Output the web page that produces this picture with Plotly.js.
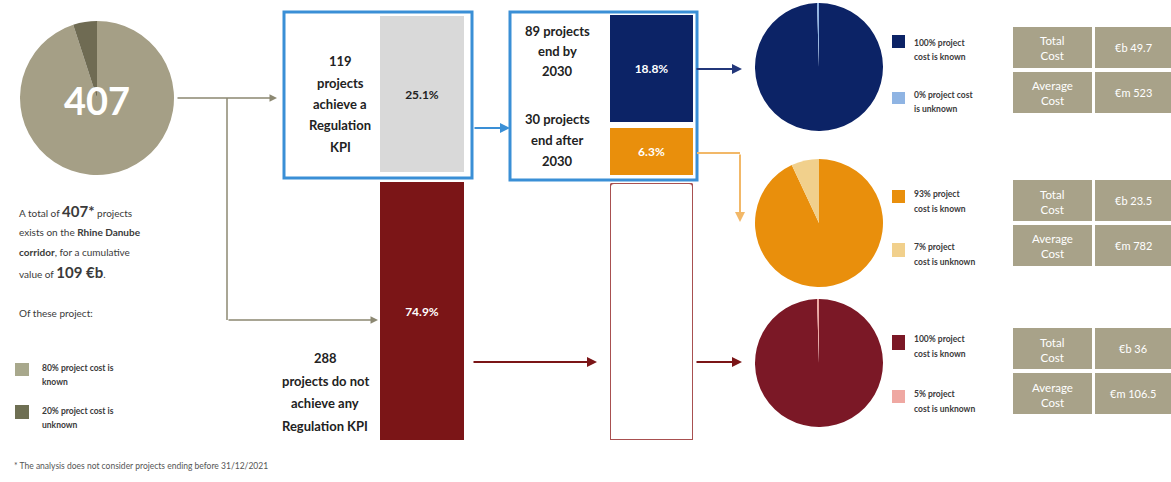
<!DOCTYPE html>
<html>
<head>
<meta charset="utf-8">
<script src="https://cdn.plot.ly/plotly-3.0.1.min.js"></script>
<style>html,body{margin:0;padding:0;background:#fff;}#chart{width:1171px;height:482px;}</style>
</head>
<body>
<div id="chart"></div>
<script>
// ---------- DATA ----------
const totalProjects = 407;
const allPieLabels = ['Project cost is unknown', 'Project cost is known'];
const allPieValues = [5, 95];
const kpiLabels = ['Achieve a Regulation KPI', 'Do not achieve any Regulation KPI'];
const kpiShares = [25.1, 74.9];
const endLabels = ['End by 2030', 'End after 2030'];
const endShares = [18.8, 6.3];
const noKpiCarry = [74.9];
const byPieLabels = ['Project cost is unknown', 'Project cost is known'];
const byPieValues = [0.5, 100];
const afterPieValues = [7, 93];
const noKpiPieValues = [0.5, 100];
const costRowLabels = ['Total<br>Cost', 'Average<br>Cost'];
const totalCosts = ['€b 49.7', '€b 23.5', '€b 36'];
const averageCosts = ['€m 523', '€m 782', '€m 106.5'];

// ---------- HELPERS ----------
const W = 1171, H = 482;
const X = px => px / W;
const Y = py => 1 - py / H;
const FONT = 'Lato, "Open Sans", sans-serif';
const C = {
  tan: '#a59f86', olive: '#6f6b53', grey: '#d9d9d9', red: '#7b1517', redPie: '#7b1826',
  navy: '#0c2366', lightBlue: '#8fb4e3', orange: '#e98f0c', lightOrange: '#f1d08c',
  pink: '#efa8a2', blue: '#3a8fd6', table: '#a8a289', text: '#3a3a3a', conn: '#8c8872'
};

const traces = [];
const shapes = [];
const annotations = [];

function txt(text, x, y, opts = {}) {
  annotations.push(Object.assign({
    text, x: X(x), y: Y(y), xref: 'paper', yref: 'paper', showarrow: false,
    xanchor: 'center', yanchor: 'middle',
    font: { family: FONT, size: 12, color: '#222' }
  }, opts));
}
function lines(arr, x, y0, gap, opts) {
  arr.forEach((t, i) => txt(t, x, y0 + i * gap, opts));
}
function arrow(x1, y1, x2, y2, color, width) {
  annotations.push({
    x: X(x2), y: Y(y2), xref: 'paper', yref: 'paper', text: '',
    showarrow: true, ax: x1 - x2, ay: y1 - y2, axref: 'pixel', ayref: 'pixel',
    arrowhead: 2, arrowsize: 1, arrowwidth: width, arrowcolor: color, standoff: 0
  });
}
function seg(x1, y1, x2, y2, color, width) {
  shapes.push({ type: 'line', xref: 'paper', yref: 'paper', x0: X(x1), y0: Y(y1), x1: X(x2), y1: Y(y2),
    line: { color, width } });
}
function rect(x1, y1, x2, y2, fill, lineColor, lw) {
  shapes.push({ type: 'rect', xref: 'paper', yref: 'paper', x0: X(x1), y0: Y(y1), x1: X(x2), y1: Y(y2),
    fillcolor: fill, line: { color: lineColor || fill, width: lw || 0 }, layer: 'below' });
}
function pie(values, labels, colors, cx, cy, r) {
  traces.push({
    type: 'pie', values, labels, sort: false, direction: 'clockwise', rotation: 0,
    marker: { colors, line: { width: 0 } }, textinfo: 'none', hoverinfo: 'label+value',
    showlegend: false,
    domain: { x: [X(cx - r), X(cx + r)], y: [Y(cy + r), Y(cy - r)] }
  });
}

// ---------- PIES ----------
pie(allPieValues.slice().reverse(), allPieLabels.slice().reverse(), [C.tan, C.olive], 97, 98, 77);
txt('<b>' + totalProjects + '</b>', 97, 100, { font: { family: FONT, size: 38, color: '#fff' } });
pie(byPieValues.slice().reverse(), byPieLabels.slice().reverse(), [C.navy, C.lightBlue], 819, 67, 64);
pie(afterPieValues.slice().reverse(), byPieLabels.slice().reverse(), [C.orange, C.lightOrange], 819, 223, 64);
pie(noKpiPieValues.slice().reverse(), byPieLabels.slice().reverse(), [C.redPie, C.pink], 819, 363, 64);

// ---------- BARS ----------
const layoutAxes = {};
function hiddenAxis(domain, range, anchor) {
  return { domain, range, anchor, visible: false, fixedrange: true, showgrid: false, zeroline: false };
}
layoutAxes.xaxis = hiddenAxis([X(380), X(464)], [-0.5, 0.5], 'y');
layoutAxes.xaxis2 = hiddenAxis([X(610), X(693)], [-0.5, 0.5], 'y3');
layoutAxes.yaxis = hiddenAxis([Y(172), Y(16)], [0, kpiShares[0]], 'x');
layoutAxes.yaxis2 = hiddenAxis([Y(440), Y(182)], [0, kpiShares[1]], 'x');
layoutAxes.yaxis3 = hiddenAxis([Y(122), Y(15)], [0, endShares[0]], 'x2');
layoutAxes.yaxis4 = hiddenAxis([Y(175), Y(128)], [0, endShares[1]], 'x2');
layoutAxes.yaxis5 = hiddenAxis([Y(440), Y(183)], [0, noKpiCarry[0]], 'x2');

function bar(val, name, xa, ya, color, textColor, lineColor, showText) {
  traces.push({
    type: 'bar', x: [0], y: [val], name, xaxis: xa, yaxis: ya, width: 1,
    marker: { color, line: { color: lineColor || color, width: lineColor ? 2 : 0 }, cornerradius: lineColor ? 4 : 0 },
    texttemplate: showText ? '<b>%{y}%</b>' : '', textposition: 'inside', insidetextanchor: 'middle',
    textfont: { family: FONT, size: 12, color: textColor }, constraintext: 'none',
    hoverinfo: 'name+y', showlegend: false
  });
}
bar(kpiShares[0], kpiLabels[0], 'x', 'y', C.grey, '#222', null, true);
bar(kpiShares[1], kpiLabels[1], 'x', 'y2', C.red, '#fff', null, true);
bar(endShares[0], endLabels[0], 'x2', 'y3', C.navy, '#fff', null, true);
bar(endShares[1], endLabels[1], 'x2', 'y4', C.orange, '#fff', null, true);
bar(noKpiCarry[0], kpiLabels[1], 'x2', 'y5', '#ffffff', '#fff', '#a85050', false);

// ---------- BOXES ----------
shapes.push({ type: 'rect', xref: 'paper', yref: 'paper', x0: X(284), y0: Y(178), x1: X(472), y1: Y(12),
  line: { color: C.blue, width: 3 }, fillcolor: 'rgba(0,0,0,0)' });
shapes.push({ type: 'rect', xref: 'paper', yref: 'paper', x0: X(510), y0: Y(180), x1: X(697), y1: Y(12),
  line: { color: C.blue, width: 3 }, fillcolor: 'rgba(0,0,0,0)' });

// ---------- CONNECTORS ----------
arrow(176, 98, 277, 98, C.conn, 1.5);
seg(227, 98, 227, 320, C.conn, 1.5);
arrow(227, 320, 378, 320, C.conn, 1.5);
arrow(473, 128, 510, 128, C.blue, 2);
arrow(695, 69, 742, 69, '#23377a', 2);
seg(697, 153, 740, 153, '#f2b868', 2);
arrow(740, 153, 740, 222, '#f2b868', 2);
arrow(472, 362, 597, 362, C.red, 2);
arrow(695, 362, 742, 362, C.red, 2);

// ---------- BOX TEXTS ----------
const bold = { font: { family: FONT, size: 13, color: '#222' } };
lines(['<b>119</b>', '<b>projects</b>', '<b>achieve a</b>', '<b>Regulation</b>', '<b>KPI</b>'], 340, 61, 21.5, bold);
lines(['<b>89 projects</b>', '<b>end by</b>', '<b>2030</b>'], 557, 31, 20, bold);
lines(['<b>30 projects</b>', '<b>end after</b>', '<b>2030</b>'], 557, 119, 21, bold);
lines(['<b>288</b>', '<b>projects do not</b>', '<b>achieve any</b>', '<b>Regulation KPI</b>'], 325, 358, 22.5, bold);

// ---------- LEFT TEXT ----------
const small = { xanchor: 'left', font: { family: FONT, size: 10, color: C.text } };
txt('A total of <b><span style="font-size:15px">407*</span></b> projects', 17, 211, small);
txt('exists on the <b>Rhine Danube</b>', 17, 232, small);
txt('<b>corridor</b>, for a cumulative', 17, 252, small);
txt('value of <b><span style="font-size:15px">109 €b</span></b>.', 17, 272, small);
txt('Of these project:', 17, 313, small);

const leg = { xanchor: 'left', font: { family: FONT, size: 8.5, color: C.text } };
rect(15, 363, 29, 376, '#a8a88c');
lines(['<b>80% project cost is</b>', '<b>known</b>'], 40, 368, 14, leg);
rect(15, 405, 29, 419, '#6e6f53');
lines(['<b>20% project cost is</b>', '<b>unknown</b>'], 40, 411, 14, leg);

// ---------- RIGHT LEGENDS ----------
const rleg = { xanchor: 'left', font: { family: FONT, size: 8.5, color: C.text } };
rect(892, 35, 905, 48, C.navy);
lines(['<b>100% project</b>', '<b>cost is known</b>'], 912, 43, 14, rleg);
rect(892, 92, 905, 104, C.lightBlue);
lines(['<b>0% project cost</b>', '<b>is unknown</b>'], 912, 95, 14, rleg);
rect(892, 190, 905, 203, C.orange);
lines(['<b>93% project</b>', '<b>cost is known</b>'], 912, 194, 15, rleg);
rect(892, 243, 905, 257, C.lightOrange);
lines(['<b>7% project</b>', '<b>cost is unknown</b>'], 912, 247, 15, rleg);
rect(892, 335, 905, 350, C.redPie);
lines(['<b>100% project</b>', '<b>cost is known</b>'], 912, 339, 15, rleg);
rect(892, 390, 905, 403, C.pink);
lines(['<b>5% project</b>', '<b>cost is unknown</b>'], 912, 394, 15, rleg);

// ---------- COST TABLES ----------
const tableTops = [27, 180, 328];
tableTops.forEach((top, i) => {
  const rows = [[costRowLabels[0], totalCosts[i]], [costRowLabels[1], averageCosts[i]]];
  rows.forEach((row, r) => {
    const y0 = top + r * 45, y1 = y0 + 41;
    rect(1013, y0, 1092, y1, C.table);
    rect(1095, y0, 1171, y1, C.table);
    txt(row[0], 1052, (y0 + y1) / 2 + 1, { font: { family: FONT, size: 11.5, color: '#fff' } });
    txt(row[1], 1133, (y0 + y1) / 2, { font: { family: FONT, size: 11, color: '#fff' } });
  });
});

// ---------- FOOTNOTE ----------
txt('* The analysis does not consider projects ending before 31/12/2021', 12, 466,
  { xanchor: 'left', font: { family: FONT, size: 8.5, color: '#555' } });

const layout = Object.assign({
  width: W, height: H, margin: { l: 0, r: 0, t: 0, b: 0 },
  paper_bgcolor: '#fff', plot_bgcolor: 'rgba(0,0,0,0)',
  showlegend: false, barmode: 'overlay', shapes, annotations,
  font: { family: FONT }
}, layoutAxes);

Plotly.newPlot('chart', traces, layout, { staticPlot: true, displayModeBar: false });
</script>
</body>
</html>
